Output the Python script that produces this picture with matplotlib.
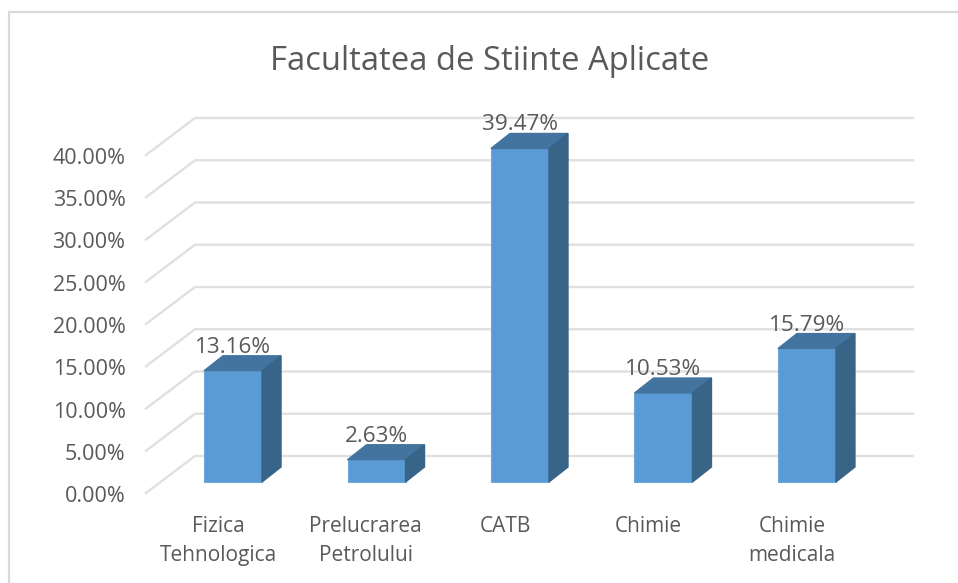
import matplotlib
matplotlib.use('Agg')
import matplotlib.pyplot as plt
from matplotlib.transforms import ScaledTranslation
from matplotlib.lines import Line2D

categories = ['Fizica\nTehnologica', 'Prelucrarea\nPetrolului', 'CATB', 'Chimie', 'Chimie\nmedicala']
values = [13.16, 2.63, 39.47, 10.53, 15.79]
value_labels = ['13.16%', '2.63%', '39.47%', '10.53%', '15.79%']
y_ticks = [0, 5, 10, 15, 20, 25, 30, 35, 40]
y_tick_labels = ['0.00%', '5.00%', '10.00%', '15.00%', '20.00%', '25.00%', '30.00%', '35.00%', '40.00%']

plt.rcParams['font.family'] = ['Open Sans', 'DejaVu Sans']

W, H = 958, 583
fig = plt.figure(figsize=(W / 100, H / 100), dpi=100)

# the back wall of the 3d chart is the real axes, everything else is shifted from it
ax = fig.add_axes([195 / W, 1 - 456 / H, (913 - 195) / W, (456 - 118) / H])
ax.set_xlim(-0.265, 4.739)
ax.set_ylim(0, 40)
ax.patch.set_visible(False)
for s in ax.spines.values():
    s.set_visible(False)

px_x = 1 / 143.5   # data units per pixel
px_y = 1 / 8.45

grid_color = '#e0e0e0'
text_color = '#595959'

wall_dx = -49 * px_x
wall_dy = -37 * px_y
x_left, x_right = ax.get_xlim()
for t in y_ticks:
    ax.plot([x_left + wall_dx, x_left, x_right], [t + wall_dy, t, t],
            color=grid_color, lw=1.7, clip_on=False, zorder=1)

# bars
half = 29 * px_x
base = -26 * px_y
depth_x = 19 * px_x
depth_y = 15 * px_y
for i, v in enumerate(values):
    top = base + v
    ax.fill([i - half, i + half, i + half, i - half], [base, base, top, top],
            color='#5b9bd5', ec='#6ea8dc', lw=0.8, clip_on=False, zorder=3)
    ax.fill([i - half, i + half, i + half + depth_x, i - half + depth_x],
            [top, top, top + depth_y, top + depth_y],
            color='#4374a0', clip_on=False, zorder=3)
    ax.fill([i + half, i + half + depth_x, i + half + depth_x, i + half],
            [base, base + depth_y, top + depth_y, top],
            color='#386487', clip_on=False, zorder=3)
    ax.text(i, top + depth_y + 3 * px_y, value_labels[i], ha='center', va='baseline',
            fontsize=16.2, color=text_color, zorder=4)

# tick labels sit at the front of the floor, not at the wall
ax.set_yticks(y_ticks)
ax.set_yticklabels(y_tick_labels, fontsize=15.5, color=text_color)
ax.tick_params(axis='y', length=0, pad=50)
shift = ScaledTranslation(0, -38 / 100, fig.dpi_scale_trans)
for lab in ax.get_yticklabels():
    lab.set_transform(lab.get_transform() + shift)

ax.set_xticks(range(len(categories)))
ax.set_xticklabels(categories, fontsize=15, color=text_color, linespacing=1.47)
ax.tick_params(axis='x', length=0, pad=0)
label_nudge = [-15, -11, -15, -15, -15]
for lab, n in zip(ax.get_xticklabels(), label_nudge):
    lab.set_transform(lab.get_transform() + ScaledTranslation(n / 100, -60 / 100, fig.dpi_scale_trans))

fig.text(490 / W, 1 - 61 / H, 'Facultatea de Stiinte Aplicate', ha='center', va='center',
         fontsize=23.6, color=text_color)

# chart frame, open on the right and at the bottom
frame_color = '#d9d9d9'
fig.add_artist(Line2D([9 / W, 9 / W, 1], [0, 1 - 12 / H, 1 - 12 / H],
                      color=frame_color, lw=1.6))

fig.savefig('out.png', dpi=100)
